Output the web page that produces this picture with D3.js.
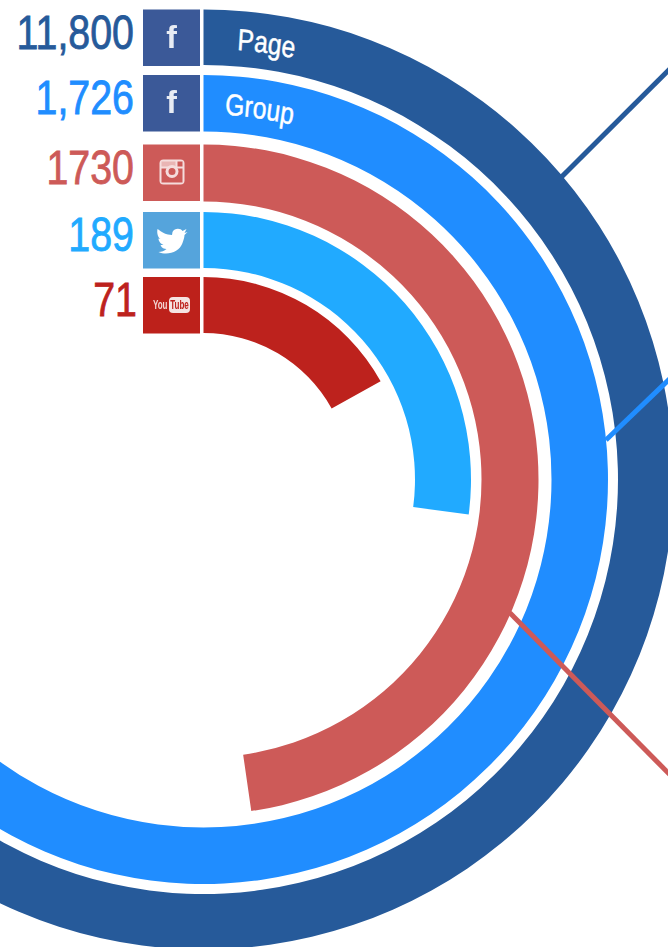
<!DOCTYPE html>
<html>
<head>
<meta charset="utf-8">
<script src="https://cdn.jsdelivr.net/npm/d3@7"></script>
<style>
html,body{margin:0;padding:0;background:#fff;overflow:hidden}
svg{display:block}
text{font-family:"Liberation Sans",sans-serif}
</style>
</head>
<body>
<svg id="chart" width="668" height="947"></svg>
<script>
// data
const rows = ['Page','Group','Instagram','Twitter','YouTube'];
const counts = ['11,800','1,726','1730','189','71'];
const ringNames = ['Page','Group','','',''];
const sweepDeg = [250,250,171.8,97.5,61];   // first two run off the left edge
const colors = ['#265a9a','#208dff','#cd5a58','#21aaff','#bd221d'];
const iconColors = ['#3b5998','#3b5998','#cd5a58','#55a4dc','#bd211b'];
const icons = ['facebook','facebook','instagram','twitter','youtube'];
const leaderRow = [0,1,2];
const leaderAngles = [[49.8,48.5],[84.4,76.3],[113.5,122.9]];
const leaderRadii = [[469,647],[404.4,498.7],[334,576.8]];

const width = 668, height = 947;
const cx = 203.5, cy = 479.5;
const squeeze = 0.82;  // no condensed face installed, so narrow the text by hand

const svg = d3.select('#chart');
const defs = svg.append('defs');
defs.append('filter').attr('id','soft')
    .append('feGaussianBlur').attr('stdDeviation',0.45);

const outerR = d3.scaleOrdinal().domain(rows).range([470,404.5,335,267.5,202.5]);
const innerR = d3.scaleOrdinal().domain(rows).range([414.5,348,278,211.5,146.5]);
const angle = d3.scaleLinear().domain([0,360]).range([0,2*Math.PI]);
const arc = d3.arc().startAngle(0);

const g = svg.append('g').attr('transform',`translate(${cx},${cy})`);

g.selectAll('path.ring')
    .data(rows)
    .join('path')
    .attr('class','ring')
    .attr('fill',(d,i)=>colors[i])
    .attr('d',(d,i)=>arc({innerRadius:innerR(d),outerRadius:outerR(d),endAngle:angle(sweepDeg[i])}));

// name on the ring, follows the band
rows.forEach((d,i)=>{
    if(!ringNames[i]) return;
    const r = outerR(d)-39;
    const a0 = [0.078,0.058][i], a1 = 1.0;
    const p0 = d3.pointRadial(a0,r), p1 = d3.pointRadial(a1,r);
    defs.append('path').attr('id','namePath'+i)
        .attr('d',`M${p0[0]/squeeze},${p0[1]}A${r/squeeze},${r} 0 0 1 ${p1[0]/squeeze},${p1[1]}`);
    g.append('text')
        .attr('transform',`scale(${squeeze},1)`)
        .attr('fill','#fff')
        .attr('stroke','#fff')
        .attr('stroke-width',0.5)
        .attr('font-size',30)
        .append('textPath')
        .attr('href','#namePath'+i)
        .text(ringNames[i]);
});

// leader lines
svg.append('g').attr('transform',`translate(${cx},${cy})`)
    .selectAll('path.leader')
    .data(leaderRow)
    .join('path')
    .attr('class','leader')
    .attr('fill','none')
    .attr('stroke',d=>colors[d])
    .attr('stroke-width',5)
    .attr('d',(d,i)=>d3.line()(leaderAngles[i].map((a,k)=>d3.pointRadial(angle(a),leaderRadii[i][k]))));

// left column
const rowTop = d=>cy-outerR(d);
const row = svg.selectAll('g.row')
    .data(rows)
    .join('g')
    .attr('class','row')
    .attr('transform',d=>`translate(0,${rowTop(d)})`);

row.append('text')
    .attr('transform',(d,i)=>`translate(${i===4?137:134},39) scale(${squeeze},1)`)
    .attr('text-anchor','end')
    .attr('font-size',48)
    .attr('fill',(d,i)=>colors[i])
    .attr('stroke',(d,i)=>colors[i])
    .attr('stroke-width',0.8)
    .text((d,i)=>counts[i]);

row.append('rect')
    .attr('x',143).attr('y',0)
    .attr('width',57).attr('height',56.5)
    .attr('fill',(d,i)=>iconColors[i]);

const ic = row.append('g')
    .attr('transform','translate(171.5,28)')
    .attr('filter','url(#soft)');

ic.each(function(d,i){
    const s = d3.select(this);
    if(icons[i]==='facebook'){
        s.append('text').attr('text-anchor','middle').attr('y',10)
            .attr('font-size',32).attr('font-weight','bold').attr('fill','#e8ecf4').text('f');
    } else if(icons[i]==='instagram'){
        s.append('rect').attr('x',-12).attr('y',-13).attr('width',25).attr('height',25).attr('rx',4)
            .attr('fill','#f5dcdc');
        s.append('rect').attr('x',-10).attr('y',-4).attr('width',21).attr('height',14)
            .attr('fill','#cd5a58');
        s.append('rect').attr('x',-10).attr('y',-11).attr('width',14).attr('height',5)
            .attr('fill','#e9b5b4');
        s.append('rect').attr('x',6).attr('y',-11).attr('width',5).attr('height',5).attr('fill','#cd5a58');
        s.append('circle').attr('cx',0.5).attr('cy',-1).attr('r',6.5).attr('fill','#f5dcdc');
        s.append('circle').attr('cx',0.5).attr('cy',-1).attr('r',3.5).attr('fill','#cd5a58');
    } else if(icons[i]==='twitter'){
        s.append('path').attr('fill','#fff')
            .attr('d','M15,-11 L11,-9 C9,-12 3,-12 1,-8 L0.5,-5 C-5,-5 -10,-8 -14,-11 C-15,-6 -13,-2 -11,-1 L-13,-1.5 C-13,2 -10,4 -8,5 L-11,5 C-10,8 -7,9 -5,9 C-7,11 -10,12 -13,12 C-4,16 8,12 11,3 C12,0 13,-3 13,-5 L16,-8 L13,-7 Z');
    } else {
        s.append('text').attr('transform','translate(-4,4) scale(0.62,1)').attr('text-anchor','end')
            .attr('font-size',13).attr('font-weight','bold').attr('fill','#f5d5d3').text('You');
        s.append('rect').attr('x',-2.5).attr('y',-8).attr('width',21).attr('height',16).attr('rx',4).attr('fill','#f5e3e2');
        s.append('text').attr('transform','translate(8,4) scale(0.62,1)').attr('text-anchor','middle')
            .attr('font-size',13).attr('font-weight','bold').attr('fill','#bd211b').text('Tube');
    }
});
</script>
</body>
</html>
